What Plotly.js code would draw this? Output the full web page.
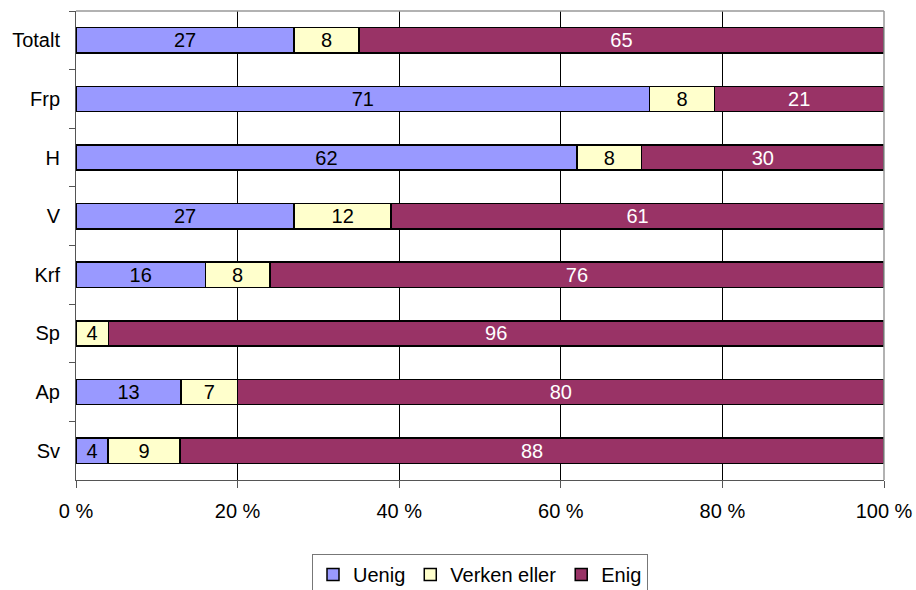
<!DOCTYPE html>
<html>
<head>
<meta charset="utf-8">
<script src="https://cdn.plot.ly/plotly-3.0.1.min.js"></script>
<style>html,body{margin:0;padding:0;background:#fff;}#chart{width:916px;height:590px;}</style>
</head>
<body>
<div id="chart"></div>
<script>
const categories = ["Totalt", "Frp", "H", "V", "Krf", "Sp", "Ap", "Sv"];
const uenig = [27, 71, 62, 27, 16, 0, 13, 4];
const verken = [8, 8, 8, 12, 8, 4, 7, 9];
const enig = [65, 21, 30, 61, 76, 96, 80, 88];
const seriesNames = ["Uenig", "Verken eller", "Enig"];
const tickVals = [0, 20, 40, 60, 80, 100];

const colors = ["#9999FF", "#FFFFCC", "#993366"];
const textColors = ["#000000", "#000000", "#FFFFFF"];
const FONT = "Liberation Sans, Arial, sans-serif";
const FS = 20;

const data = [uenig, verken, enig].map((vals, i) => ({
  type: "bar",
  orientation: "h",
  name: seriesNames[i],
  y: categories,
  x: vals,
  text: vals.map(v => v === 0 ? "" : String(v)),
  textposition: "inside",
  insidetextanchor: "middle",
  textangle: 0,
  constraintext: "none",
  textfont: {family: FONT, size: FS, color: textColors[i]},
  marker: {color: colors[i], line: {color: "#000", width: 1.5}},
  hoverinfo: "skip"
}));

const layout = {
  width: 916, height: 590,
  margin: {l: 76, r: 32, t: 11, b: 110, autoexpand: false},
  barmode: "stack",
  barnorm: "percent",
  bargap: 0.57,
  paper_bgcolor: "#fff",
  plot_bgcolor: "#fff",
  font: {family: FONT, size: FS, color: "#000"},
  showlegend: true,
  legend: {
    orientation: "h", x: 0.5, xanchor: "center", y: -0.158, yanchor: "top",
    bordercolor: "#777", borderwidth: 1, bgcolor: "#fff",
    font: {family: FONT, size: FS, color: "#000"},
    traceorder: "normal", itemwidth: 30, tracegroupgap: 0
  },
  xaxis: {
    range: [0, 100], tickvals: tickVals, ticktext: tickVals.map(v => v + " %"),
    showgrid: true, gridcolor: "#000", gridwidth: 1,
    ticks: "outside", ticklen: 7, tickcolor: "#555",
    showline: true, linecolor: "#555", linewidth: 1,
    zeroline: false, ticklabelstandoff: 6,
    tickfont: {family: FONT, size: FS, color: "#000"}
  },
  yaxis: {
    type: "category", autorange: "reversed",
    ticks: "outside", ticklen: 6, tickcolor: "#555", tickson: "boundaries",
    showline: true, linecolor: "#555", linewidth: 1,
    showgrid: false, zeroline: false, ticklabelstandoff: 11,
    tickfont: {family: FONT, size: FS, color: "#000"}
  },
  shapes: [
    {type: "line", xref: "paper", yref: "paper", x0: 0, x1: 1, y0: 1, y1: 1, line: {color: "#999", width: 1.5}},
    {type: "line", xref: "paper", yref: "paper", x0: 1, x1: 1, y0: 0, y1: 1, line: {color: "#999", width: 1.5}}
  ]
};

Plotly.newPlot("chart", data, layout, {displayModeBar: false, staticPlot: true});
</script>
</body>
</html>
